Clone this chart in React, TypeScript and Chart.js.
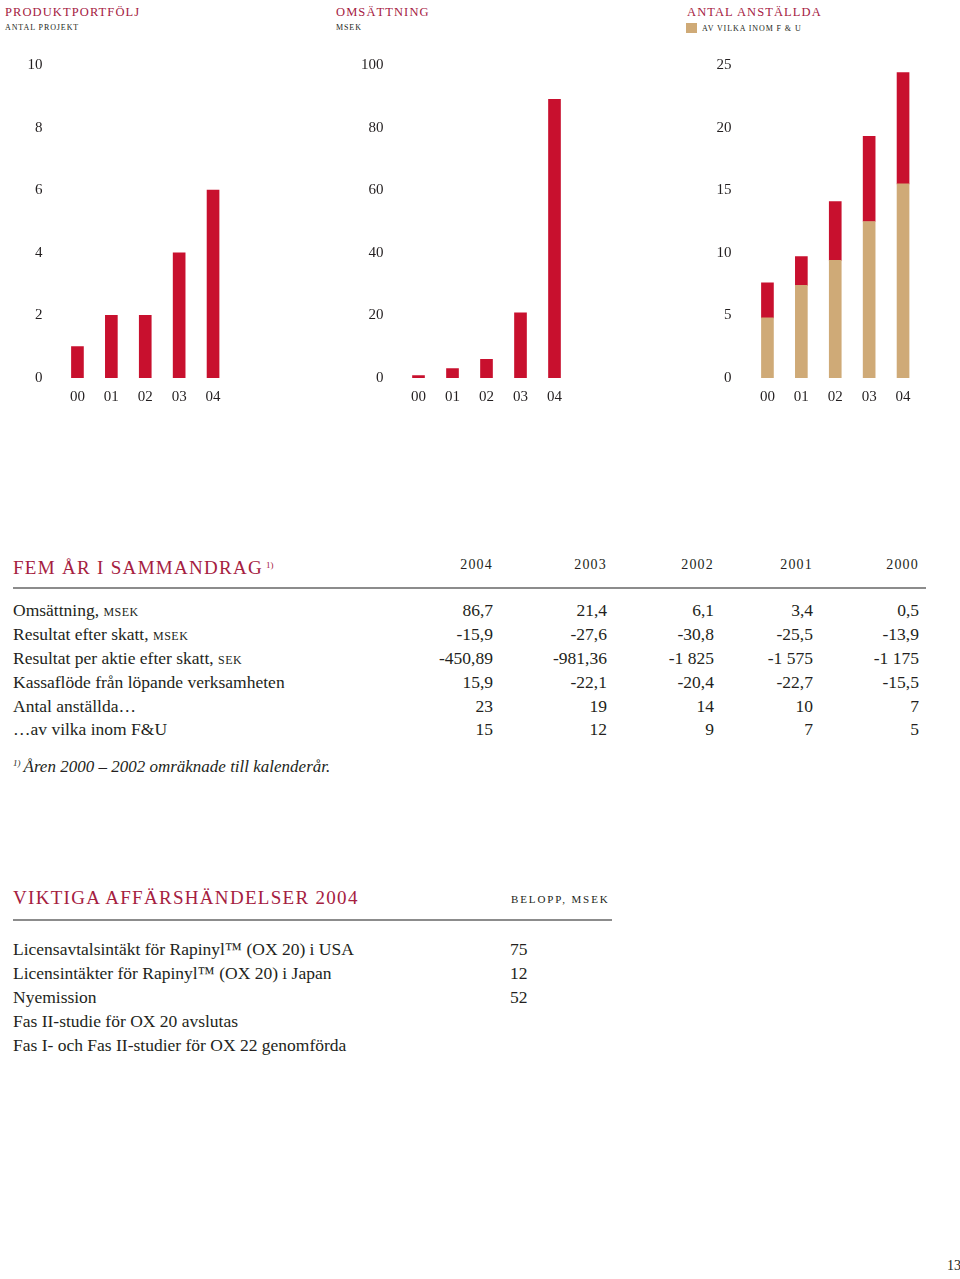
import React, { useEffect, useRef } from "react";
import { Chart, registerables } from "chart.js";

Chart.register(...registerables);

// ---------- data ----------
const yearLabels = ["00", "01", "02", "03", "04"];
const projectCounts = [1, 2, 2, 4, 6];
const revenueMsek = [0.8, 3.0, 6.0, 20.8, 89];
const employeesRnd = [4.8, 7.4, 9.4, 12.5, 15.5];
const employeesOther = [2.8, 2.3, 4.7, 6.8, 8.9];

const summaryYears = ["2004", "2003", "2002", "2001", "2000"];
const summaryLabels = [
  ["Omsättning, ", "msek"],
  ["Resultat efter skatt, ", "msek"],
  ["Resultat per aktie efter skatt, ", "sek"],
  ["Kassaflöde från löpande verksamheten", ""],
  ["Antal anställda…", ""],
  ["…av vilka inom F&U", ""],
];
const summaryRevenue = ["86,7", "21,4", "6,1", "3,4", "0,5"];
const summaryResult = ["-15,9", "-27,6", "-30,8", "-25,5", "-13,9"];
const summaryEps = ["-450,89", "-981,36", "-1 825", "-1 575", "-1 175"];
const summaryCashflow = ["15,9", "-22,1", "-20,4", "-22,7", "-15,5"];
const summaryEmployees = ["23", "19", "14", "10", "7"];
const summaryRndEmployees = ["15", "12", "9", "7", "5"];

const eventLabels = [
  "Licensavtalsintäkt för Rapinyl™ (OX 20) i USA",
  "Licensintäkter för Rapinyl™ (OX 20) i Japan",
  "Nyemission",
  "Fas II-studie för OX 20 avslutas",
  "Fas I- och Fas II-studier för OX 22 genomförda",
];
const eventAmounts = ["75", "12", "52", "", ""];

// ---------- styles ----------
const RED = "#C8102E";
const TAN = "#CFAA77";
const HEAD = "#A5203F";
const INK = "#231F20";
const FONT = "'Liberation Serif', 'DejaVu Serif', serif";

type BarChartProps = {
  x: number;
  y: number;
  w: number;
  h: number;
  areaLeft: number;
  areaRight: number;
  areaTop: number;
  areaBottom: number;
  max: number;
  step: number;
  yPad: number;
  datasets: any[];
};

function BarChart(p: BarChartProps) {
  const ref = useRef<HTMLCanvasElement>(null);
  useEffect(() => {
    const xAxisH = 32;
    const chart = new Chart(ref.current!, {
      type: "bar",
      data: { labels: yearLabels, datasets: p.datasets },
      options: {
        responsive: false,
        maintainAspectRatio: false,
        animation: false,
        devicePixelRatio: 1,
        layout: {
          padding: {
            left: 0,
            top: p.areaTop - p.y,
            right: p.x + p.w - p.areaRight,
            bottom: p.y + p.h - p.areaBottom - xAxisH,
          },
        },
        plugins: { legend: { display: false }, tooltip: { enabled: false } },
        scales: {
          x: {
            stacked: true,
            grid: { display: false, drawTicks: false },
            border: { display: false },
            ticks: { padding: 10, color: INK, font: { family: FONT, size: 15 } },
            afterFit: (s: any) => {
              s.height = xAxisH;
              s.paddingLeft = 0;
              s.paddingRight = 0;
            },
          },
          y: {
            stacked: true,
            min: 0,
            max: p.max,
            grid: { display: false, drawTicks: false },
            border: { display: false },
            ticks: {
              stepSize: p.step,
              padding: p.yPad,
              color: INK,
              font: { family: FONT, size: 15 },
            },
            afterFit: (s: any) => {
              s.width = p.areaLeft - p.x;
              s.paddingTop = 0;
              s.paddingBottom = 0;
            },
          },
        },
      },
    });
    return () => chart.destroy();
  }, []);
  return (
    <canvas
      ref={ref}
      width={p.w}
      height={p.h}
      style={{ position: "absolute", left: p.x, top: p.y, width: p.w, height: p.h }}
    />
  );
}

function T(props: {
  x: number;
  y: number;
  size: number;
  children: React.ReactNode;
  color?: string;
  right?: boolean;
  style?: React.CSSProperties;
}) {
  const lh = Math.round(props.size * 1.4);
  const base: React.CSSProperties = {
    position: "absolute",
    top: props.y - lh / 2,
    lineHeight: lh + "px",
    fontSize: props.size,
    fontFamily: FONT,
    color: props.color || INK,
    whiteSpace: "nowrap",
  };
  if (props.right) {
    base.left = props.x - 300;
    base.width = 300;
    base.textAlign = "right";
  } else {
    base.left = props.x;
  }
  return <div style={{ ...base, ...props.style }}>{props.children}</div>;
}

const headStyle: React.CSSProperties = { letterSpacing: "1.1px", textTransform: "uppercase" };
const subStyle: React.CSSProperties = { letterSpacing: "0.9px", textTransform: "uppercase" };

export default function App() {
  const rows = [
    summaryRevenue,
    summaryResult,
    summaryEps,
    summaryCashflow,
    summaryEmployees,
    summaryRndEmployees,
  ];
  const colRight = [493, 607, 714, 813, 919];
  const rowY = [610, 634, 658, 682, 706, 729];
  const eventY = [949, 973, 997, 1021, 1045];

  return (
    <div
      style={{
        position: "absolute",
        left: 0,
        top: 0,
        width: 960,
        height: 1279,
        background: "#fff",
        overflow: "hidden",
      }}
    >
      {/* headings of the three charts */}
      <T x={5} y={12} size={12.5} color={HEAD} style={headStyle}>Produktportfölj</T>
      <T x={5} y={27} size={8} style={subStyle}>Antal projekt</T>
      <T x={336} y={12} size={12.5} color={HEAD} style={headStyle}>Omsättning</T>
      <T x={336} y={27} size={8} style={subStyle}>msek</T>
      <T x={687} y={12} size={12.5} color={HEAD} style={headStyle}>Antal anställda</T>
      <div style={{ position: "absolute", left: 686, top: 23, width: 11, height: 10, background: TAN }} />
      <T x={702} y={28} size={8} style={subStyle}>av vilka inom F &amp; U</T>

      <BarChart
        x={0}
        y={45}
        w={300}
        h={370}
        areaLeft={60.5}
        areaRight={230}
        areaTop={65}
        areaBottom={378}
        max={10}
        step={2}
        yPad={18}
        datasets={[
          { data: projectCounts, backgroundColor: RED, barThickness: 12, borderWidth: 0 },
        ]}
      />
      <BarChart
        x={320}
        y={45}
        w={300}
        h={370}
        areaLeft={401.5}
        areaRight={571.5}
        areaTop={65}
        areaBottom={378}
        max={100}
        step={20}
        yPad={18}
        datasets={[
          { data: revenueMsek, backgroundColor: RED, barThickness: 12, borderWidth: 0 },
        ]}
      />
      <BarChart
        x={660}
        y={45}
        w={300}
        h={370}
        areaLeft={750.5}
        areaRight={920}
        areaTop={65}
        areaBottom={378}
        max={25}
        step={5}
        yPad={19}
        datasets={[
          { data: employeesRnd, backgroundColor: TAN, barThickness: 12, borderWidth: 0 },
          { data: employeesOther, backgroundColor: RED, barThickness: 12, borderWidth: 0 },
        ]}
      />

      {/* Fem år i sammandrag */}
      <T x={13} y={565} size={19} color={HEAD} style={{ letterSpacing: "1.3px" }}>
        FEM ÅR I SAMMANDRAG
        <sup style={{ fontSize: 9, letterSpacing: 0, marginLeft: 3, verticalAlign: 6 }}>1)</sup>
      </T>
      {summaryYears.map((yr, i) => (
        <T key={yr} x={colRight[i]} y={565} size={14} right style={{ letterSpacing: "1.2px" }}>
          {yr}
        </T>
      ))}
      <div style={{ position: "absolute", left: 13, top: 587, width: 913, height: 1.5, background: "#8c8c8c" }} />
      {summaryLabels.map((lab, r) => (
        <T key={r} x={13} y={rowY[r]} size={17.5}>
          {lab[0]}
          {lab[1] && <span style={{ fontVariant: "small-caps", letterSpacing: "0.5px" }}>{lab[1]}</span>}
        </T>
      ))}
      {rows.map((row, r) =>
        row.map((v, c) => (
          <T key={r + "-" + c} x={colRight[c]} y={rowY[r]} size={17.5} right>
            {v}
          </T>
        ))
      )}
      <T x={13} y={763} size={17} style={{ fontStyle: "italic" }}>
        <sup style={{ fontSize: 9, verticalAlign: 6, marginRight: 3 }}>1)</sup>
        Åren 2000 – 2002 omräknade till kalenderår.
      </T>

      {/* Viktiga affärshändelser */}
      <T x={13} y={897} size={19} color={HEAD} style={{ letterSpacing: "1.3px" }}>
        VIKTIGA AFFÄRSHÄNDELSER 2004
      </T>
      <T x={511} y={899} size={11} style={{ letterSpacing: "1.9px", textTransform: "uppercase" }}>
        Belopp, msek
      </T>
      <div style={{ position: "absolute", left: 13, top: 919, width: 599, height: 1.5, background: "#8c8c8c" }} />
      {eventLabels.map((lab, i) => (
        <T key={lab} x={13} y={eventY[i]} size={17.5}>
          {lab}
        </T>
      ))}
      {eventAmounts.map((v, i) =>
        v ? (
          <T key={"a" + i} x={510} y={eventY[i]} size={17.5}>
            {v}
          </T>
        ) : null
      )}

      <T x={947} y={1266} size={14}>13</T>
    </div>
  );
}
